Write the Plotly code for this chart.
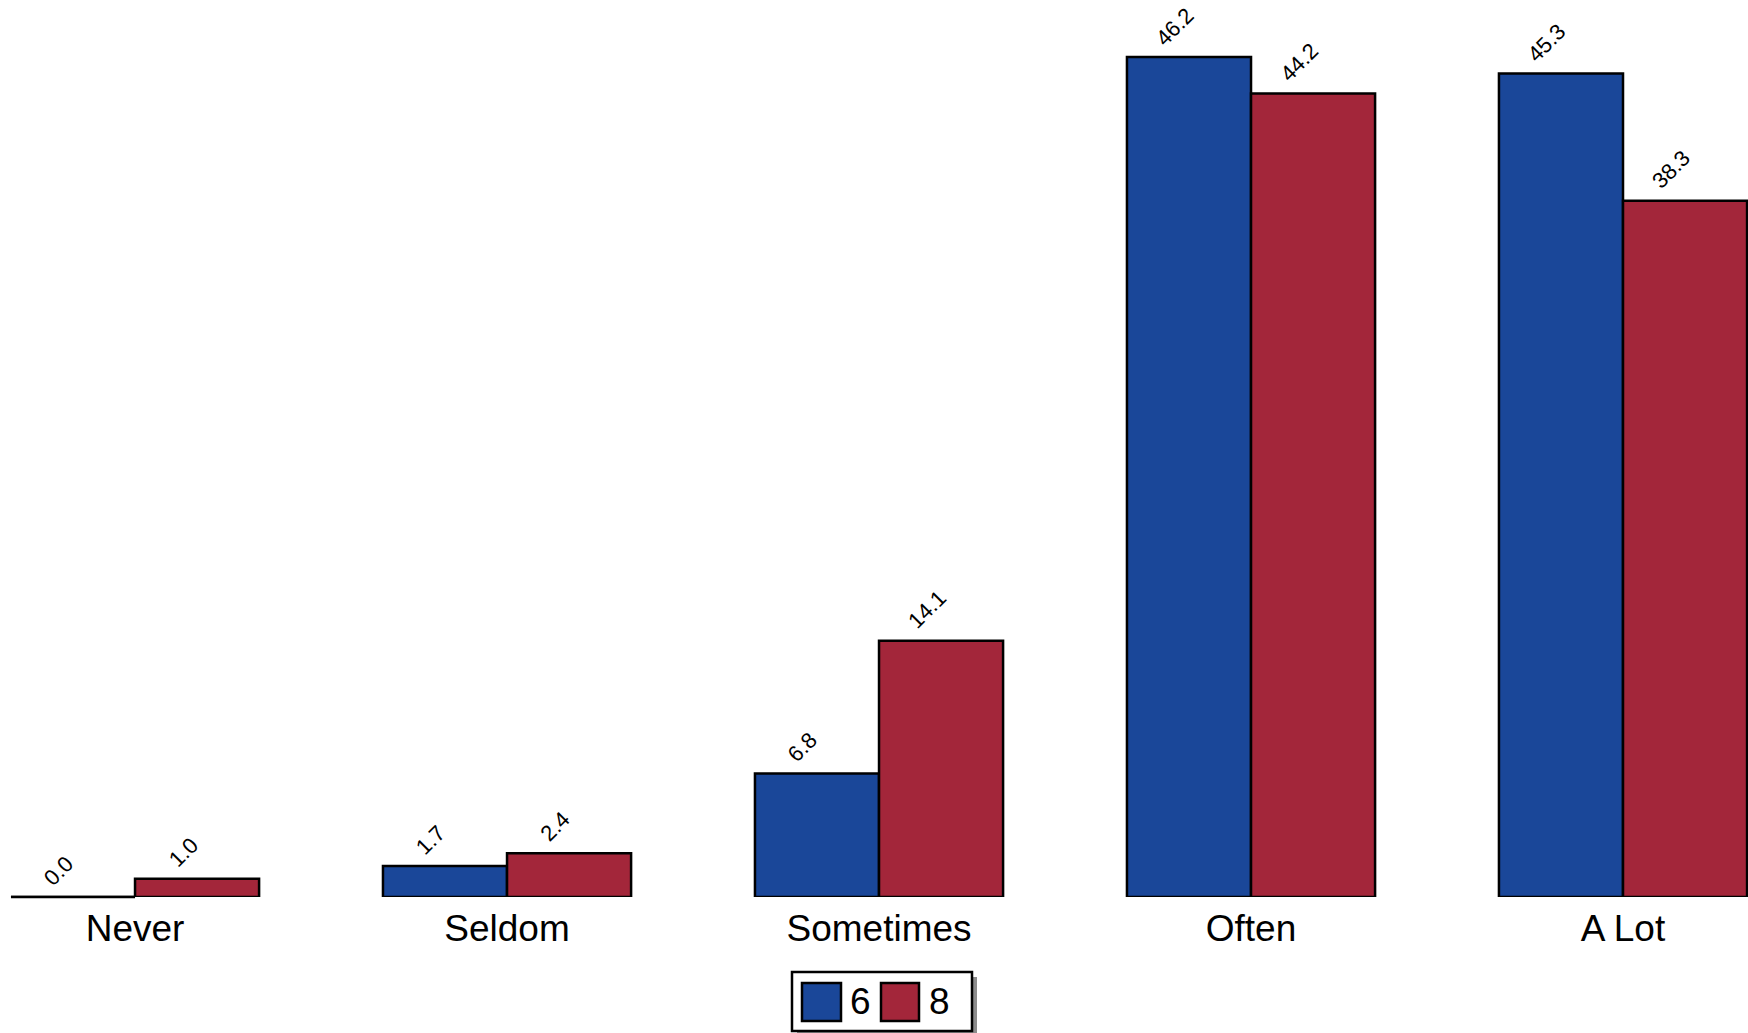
import plotly.graph_objects as go

# how often - grade 6 vs grade 8 (percent)
categories = ["Never", "Seldom", "Sometimes", "Often", "A Lot"]
grade6 = [0.0, 1.7, 6.8, 46.2, 45.3]
grade8 = [1.0, 2.4, 14.1, 44.2, 38.3]
series_names = ["6", "8"]

BLUE = "#1A4799"
RED = "#A3263A"
FONT = "Liberation Sans, Arial, Helvetica, sans-serif"

W, H = 1748, 1033
plot_bottom = 897  # pixel row of the bar baseline
cat_px = 372        # pixels per category

fig = go.Figure()
for name, vals, col in [(series_names[0], grade6, BLUE), (series_names[1], grade8, RED)]:
    fig.add_trace(go.Bar(
        x=categories, y=vals, name=name,
        marker=dict(color=col, line=dict(color="black", width=2.5)),
        cliponaxis=False,
    ))

# value labels, rotated, sitting a bit left of each bar's centre
bar_w = (1 - 0.333) / 2
for side, vals in [(-1, grade6), (1, grade8)]:
    for cat, v in zip(categories, vals):
        fig.add_annotation(x=cat, y=v, text=f"{v:.1f}", showarrow=False, textangle=-45,
                           xanchor="center", yanchor="bottom",
                           xshift=side * bar_w / 2 * cat_px - 14, yshift=4,
                           font=dict(family=FONT, size=22, color="black"))

# zero-height bars still get their outline drawn as a line at the base
for i, v in enumerate(grade6):
    if v == 0:
        fig.add_shape(type="line", xref="x", yref="paper", x0=i - bar_w, x1=i, y0=0, y1=0,
                      line=dict(color="black", width=2.5))

# hand-made legend (big square keys with a drop shadow)
def px(x): return x / W
def py(y): return (plot_bottom - y) / plot_bottom

fig.add_shape(type="rect", xref="paper", yref="paper", x0=px(797), x1=px(977), y0=py(977), y1=py(1036),
              fillcolor="#8c8c8c", line=dict(width=0), layer="above")
fig.add_shape(type="rect", xref="paper", yref="paper", x0=px(792), x1=px(972), y0=py(972), y1=py(1031),
              fillcolor="white", line=dict(color="black", width=2.5), layer="above")
for (x0, x1, tx), col, name in zip([(802, 841, 860), (881, 919, 939)], [BLUE, RED], series_names):
    fig.add_shape(type="rect", xref="paper", yref="paper", x0=px(x0), x1=px(x1), y0=py(983), y1=py(1021),
                  fillcolor=col, line=dict(color="black", width=2.5), layer="above")
    fig.add_annotation(xref="paper", yref="paper", x=px(tx), y=py(1002), text=name, showarrow=False,
                       xanchor="center", yanchor="middle",
                       font=dict(family=FONT, size=37, color="black"))

fig.update_layout(
    width=W, height=H,
    margin=dict(l=0, r=0, t=0, b=H - plot_bottom),
    paper_bgcolor="white", plot_bgcolor="white",
    barmode="group", bargap=0.333, bargroupgap=0,
    showlegend=False,
    font=dict(family=FONT, color="black"),
    xaxis=dict(range=[-0.363, 4.336], showgrid=False, zeroline=False, showline=False,
               ticks="", ticklabelstandoff=6, tickfont=dict(size=37, color="black")),
    yaxis=dict(range=[0, 49.34], visible=False, showgrid=False, zeroline=False),
)

fig.write_html("out.html", config={"displayModeBar": False},
               post_script="document.body.style.margin='0';")
